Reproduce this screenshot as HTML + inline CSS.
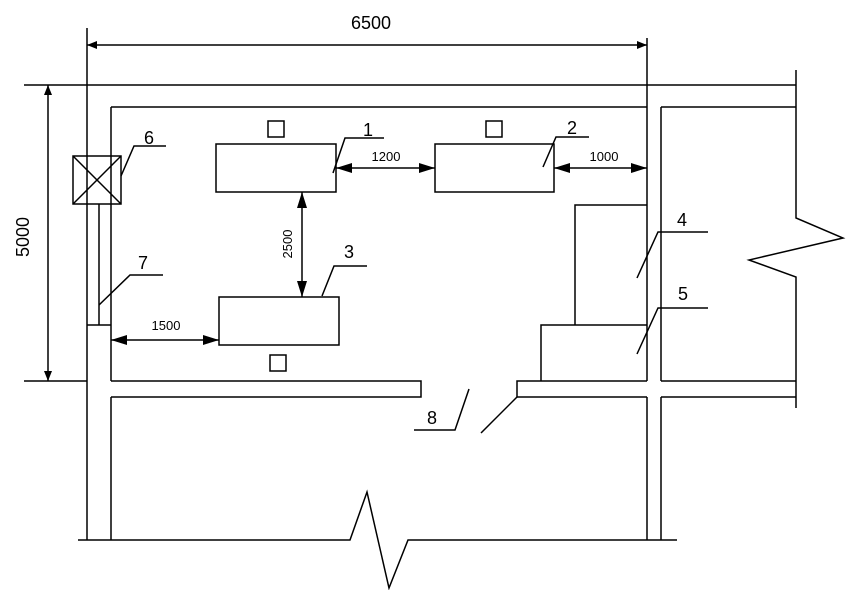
<!DOCTYPE html>
<html><head><meta charset="utf-8"><style>body{margin:0;background:#fff}svg{display:block}</style></head><body>
<svg width="847" height="590" viewBox="0 0 847 590" xmlns="http://www.w3.org/2000/svg" font-family="Liberation Sans, sans-serif">
<defs>
<marker id="a" markerWidth="16" markerHeight="10" refX="16" refY="5" orient="auto-start-reverse" markerUnits="userSpaceOnUse"><path d="M0,0L16,5L0,10z" fill="#000"/></marker>
<marker id="b" markerWidth="10" markerHeight="8" refX="10" refY="4" orient="auto-start-reverse" markerUnits="userSpaceOnUse"><path d="M0,0L10,4L0,8z" fill="#000"/></marker>
</defs>
<g stroke="#000" stroke-width="1.5" fill="none">
<line x1="87" y1="28" x2="87" y2="540"/>
<line x1="111" y1="107" x2="111" y2="381"/>
<line x1="111" y1="397" x2="111" y2="540"/>
<line x1="24" y1="85" x2="796" y2="85"/>
<line x1="111" y1="107" x2="647" y2="107"/>
<line x1="647" y1="38" x2="647" y2="381"/>
<line x1="661" y1="107" x2="661" y2="381"/>
<line x1="647" y1="397" x2="647" y2="540"/>
<line x1="661" y1="397" x2="661" y2="540"/>
<line x1="661" y1="107" x2="796" y2="107"/>
<polyline points="796,70 796,218 843,238 749,260 796,277 796,408"/>
<line x1="661" y1="381" x2="796" y2="381"/>
<line x1="661" y1="397" x2="796" y2="397"/>
<polyline points="111,381 421,381 421,397 111,397"/>
<polyline points="647,381 517,381 517,397 647,397"/>
<line x1="517" y1="397" x2="481" y2="433"/>
<polyline points="469,389 455,430 414,430"/>
<line x1="24" y1="381" x2="87" y2="381"/>
<line x1="99" y1="204" x2="99" y2="325"/>
<line x1="87" y1="325" x2="111" y2="325"/>
<rect x="73" y="156" width="48" height="48"/>
<line x1="73" y1="156" x2="121" y2="204"/><line x1="121" y1="156" x2="73" y2="204"/>
<polyline points="121,176 134,146 166,146"/>
<polyline points="99,305 130,275 163,275"/>
<polyline points="78,540 350,540 367,492 389,588 408,540 677,540"/>
<rect x="216" y="144" width="120" height="48"/>
<rect x="435" y="144" width="119" height="48"/>
<rect x="219" y="297" width="120" height="48"/>
<rect x="268" y="121" width="16" height="16"/>
<rect x="486" y="121" width="16" height="16"/>
<rect x="270" y="355" width="16" height="16"/>
<polyline points="333,173 345,138 384,138"/>
<polyline points="543,167 556,137 589,137"/>
<polyline points="322,296 334,266 367,266"/>
<polyline points="637,278 658,232 708,232"/>
<polyline points="637,354 658,308 708,308"/>
<polyline points="575,325 575,205 647,205"/>
<polyline points="541,381 541,325 647,325"/>
<line x1="87" y1="45" x2="647" y2="45" marker-start="url(#b)" marker-end="url(#b)"/>
<line x1="48" y1="85" x2="48" y2="381" marker-start="url(#b)" marker-end="url(#b)"/>
<line x1="336" y1="168" x2="435" y2="168" marker-start="url(#a)" marker-end="url(#a)"/>
<line x1="554" y1="168" x2="647" y2="168" marker-start="url(#a)" marker-end="url(#a)"/>
<line x1="302" y1="192" x2="302" y2="297" marker-start="url(#a)" marker-end="url(#a)"/>
<line x1="111" y1="340" x2="219" y2="340" marker-start="url(#a)" marker-end="url(#a)"/>
</g>
<g fill="#000" text-anchor="middle">
<text x="371" y="29" font-size="18">6500</text>
<text x="29" y="237" font-size="18" transform="rotate(-90 29 237)">5000</text>
<text x="386" y="161" font-size="13">1200</text>
<text x="604" y="161" font-size="13">1000</text>
<text x="166" y="330" font-size="13">1500</text>
<text x="292" y="244" font-size="13" transform="rotate(-90 292 244)">2500</text>
<text x="368" y="136" font-size="18">1</text>
<text x="572" y="134" font-size="18">2</text>
<text x="349" y="258" font-size="18">3</text>
<text x="682" y="226" font-size="18">4</text>
<text x="683" y="300" font-size="18">5</text>
<text x="149" y="144" font-size="18">6</text>
<text x="143" y="269" font-size="18">7</text>
<text x="432" y="424" font-size="18">8</text>
</g>
</svg>
</body></html>
